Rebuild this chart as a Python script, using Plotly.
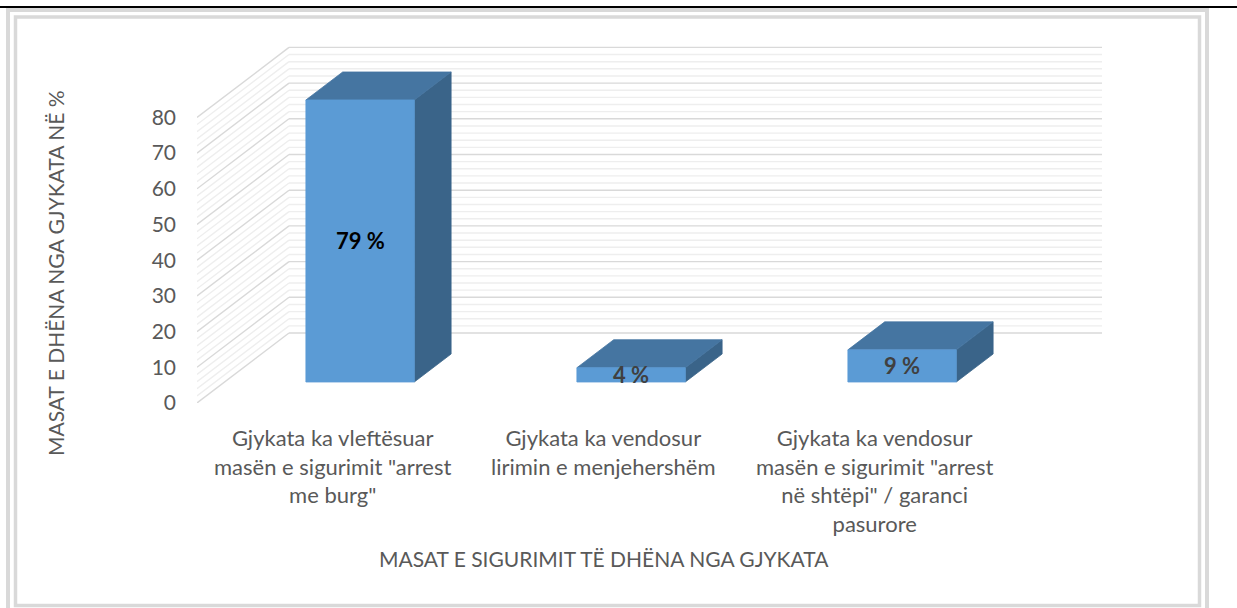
import plotly.graph_objects as go

# ---------------- data ----------------
categories = [
    'Gjykata ka vleftësuar<br>masën e sigurimit "arrest<br>me burg"',
    'Gjykata ka vendosur<br>lirimin e menjehershëm',
    'Gjykata ka vendosur<br>masën e sigurimit "arrest<br>në shtëpi" / garanci<br>pasurore',
]
values = [79, 4, 9]
value_labels = ["79 %", "4 %", "9 %"]
value_label_colors = ["#000000", "#404040", "#404040"]
y_ticks = [0, 10, 20, 30, 40, 50, 60, 70, 80]
y_title = "MASAT E DHËNA NGA GJYKATA NË %"
x_title = "MASAT E SIGURIMIT TË DHËNA NGA GJYKATA"

# ---------------- geometry (pixels) ----------------
W, H = 1237, 608
L, R, T, B = 197, 1104, 40, 403
PX_PER_CAT = 271.0
PX_PER_UNIT = 3.57
DX = 92 / PX_PER_CAT          # depth offset in category units
DY = 70 / PX_PER_UNIT         # depth offset in value units
BAR_HALF = 0.2
D0, D1 = 0.30, 0.70
n = len(values)
ymax_wall = 80

x_range = [0, (R - L) / PX_PER_CAT]
y_range = [0, (B - T) / PX_PER_UNIT]


def px2paper_x(px):
    return (px - L) / (R - L)


def px2paper_y(py):
    return (B - py) / (B - T)


def P(x, y, d):
    return x + d * DX, y + d * DY


fig = go.Figure()

# ---------------- gridlines (back wall + side wall) ----------------
grid = {True: ([], []), False: ([], [])}
for v in range(0, ymax_wall + 1, 2):
    major = v % 10 == 0
    xs, ys = grid[major]
    x0, y0 = P(0, v, 0)
    x1, y1 = P(0, v, 1)
    xs += [x0, x1, None]
    ys += [y0, y1, None]
    x2, y2 = P(n, v, 1)
    xs += [x1, x2, None]
    ys += [y1, y2, None]

for major, color in [(False, "#eeeeee"), (True, "#d9d9d9")]:
    xs, ys = grid[major]
    fig.add_trace(go.Scatter(x=xs, y=ys, mode="lines",
                             line=dict(color=color, width=1.4),
                             hoverinfo="skip", showlegend=False))

# ---------------- 3D bars ----------------
FRONT = "#5B9BD5"
TOP = "#4575A1"
SIDE = "#3A6489"

for i, v in enumerate(values):
    xl = i + 0.5 - BAR_HALF
    xr = i + 0.5 + BAR_HALF
    faces = [
        ([P(xr, 0, D0), P(xr, 0, D1), P(xr, v, D1), P(xr, v, D0)], SIDE),
        ([P(xl, v, D0), P(xr, v, D0), P(xr, v, D1), P(xl, v, D1)], TOP),
        ([P(xl, 0, D0), P(xr, 0, D0), P(xr, v, D0), P(xl, v, D0)], FRONT),
    ]
    for pts, col in faces:
        xs = [p[0] for p in pts] + [pts[0][0]]
        ys = [p[1] for p in pts] + [pts[0][1]]
        fig.add_trace(go.Scatter(x=xs, y=ys, mode="lines", fill="toself",
                                 fillcolor=col, line=dict(color=col, width=0.8),
                                 hoverinfo="skip", showlegend=False))

# value labels at the centre of the front face
for i, v in enumerate(values):
    lx, ly = P(i + 0.5, v / 2, D0)
    fig.add_annotation(x=lx, y=ly, xref="x", yref="y", text="<b>%s</b>" % value_labels[i],
                       showarrow=False, xanchor="center", yanchor="middle",
                       font=dict(family="Lato", size=22, color=value_label_colors[i]))

# ---------------- category labels ----------------
for i, c in enumerate(categories):
    fig.add_annotation(x=i + 0.5, y=px2paper_y(422), xref="x", yref="paper",
                       text=c, showarrow=False, xanchor="center", yanchor="top",
                       align="center",
                       font=dict(family="Lato", size=22, color="#595959"))

# axis titles
fig.add_annotation(x=n / 2, y=px2paper_y(558), xref="x", yref="paper",
                   text=x_title, showarrow=False, xanchor="center", yanchor="middle",
                   font=dict(family="Lato", size=21, color="#595959"))
fig.add_annotation(x=px2paper_x(55), y=px2paper_y(273), xref="paper", yref="paper",
                   text=y_title, showarrow=False, textangle=-90,
                   xanchor="center", yanchor="middle",
                   font=dict(family="Lato", size=21, color="#595959"))

# ---------------- frame ----------------
shapes = [
    dict(type="rect", xref="paper", yref="paper",
         x0=px2paper_x(8), x1=px2paper_x(1207), y0=px2paper_y(10), y1=px2paper_y(640),
         line=dict(color="#d9d9d9", width=4)),
    dict(type="rect", xref="paper", yref="paper",
         x0=px2paper_x(15.5), x1=px2paper_x(1199.5), y0=px2paper_y(17), y1=px2paper_y(605.5),
         line=dict(color="#d9d9d9", width=3.5)),
    dict(type="line", xref="paper", yref="paper",
         x0=px2paper_x(0), x1=px2paper_x(W), y0=px2paper_y(7), y1=px2paper_y(7),
         line=dict(color="#000000", width=2)),
]

fig.update_layout(
    width=W, height=H,
    margin=dict(l=L, r=W - R, t=T, b=H - B),
    paper_bgcolor="white", plot_bgcolor="white",
    showlegend=False,
    shapes=shapes,
    xaxis=dict(range=x_range, showgrid=False, zeroline=False, showline=False,
               showticklabels=False, fixedrange=True),
    yaxis=dict(range=y_range, showgrid=False, zeroline=False, showline=False,
               tickmode="array", tickvals=y_ticks, ticks="",
               ticklabelstandoff=20,
               tickfont=dict(family="Lato", size=21, color="#595959"),
               fixedrange=True),
)

fig.write_html("out.html", config={"displayModeBar": False},
               post_script="document.body.style.margin='0px';")
